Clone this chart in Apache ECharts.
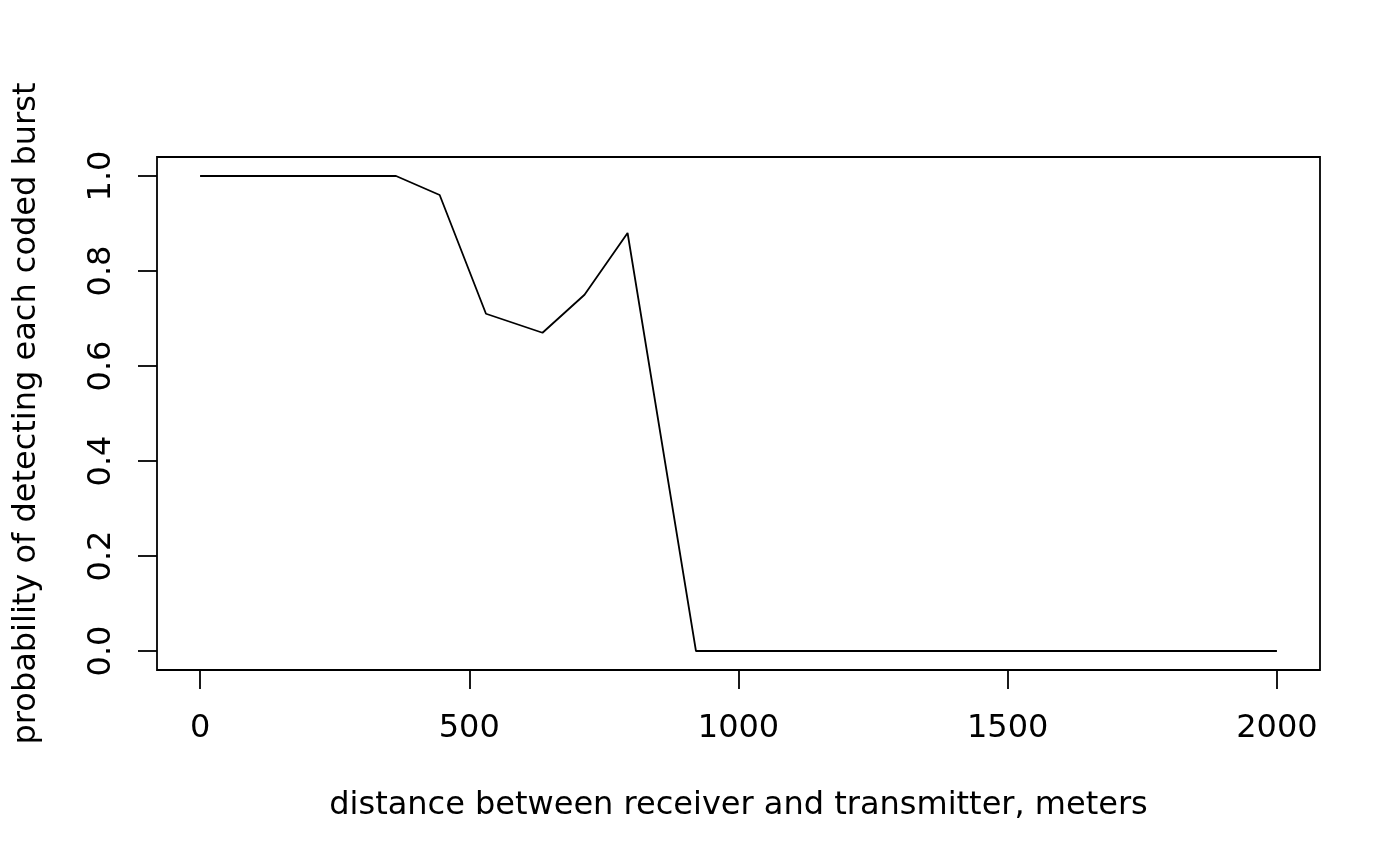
<!DOCTYPE html>
<html>
<head>
<meta charset="utf-8">
<script src="https://cdn.jsdelivr.net/npm/echarts@6/dist/echarts.min.js"></script>
<style>
  html, body { margin: 0; padding: 0; background: #fff; }
  #chart { width: 1400px; height: 866px; }
</style>
</head>
<body>
<div id="chart"></div>
<script>
  // detection range curve
  const distances = [0, 364, 445, 531, 636, 714, 794, 921, 2000];
  const probabilities = [1.0, 1.0, 0.96, 0.71, 0.67, 0.75, 0.88, 0.0, 0.0];
  const xTicks = [0, 500, 1000, 1500, 2000];
  const yTicks = [0, 0.2, 0.4, 0.6, 0.8, 1.0];

  const font = "'DejaVu Sans', sans-serif";
  const chart = echarts.init(document.getElementById("chart"), null, { renderer: "canvas" });

  chart.setOption({
    animation: false,
    grid: {
      left: 157, right: 80, top: 157, bottom: 196,
      show: true, borderColor: "#000", borderWidth: 1.8, backgroundColor: "transparent"
    },
    xAxis: {
      type: "value", min: -80, max: 2080,
      name: "distance between receiver and transmitter, meters",
      nameLocation: "middle", nameGap: 120,
      nameTextStyle: { color: "#000", fontFamily: font, fontSize: 32 },
      axisLine: { show: false, onZero: false },
      splitLine: { show: false },
      axisTick: { show: true, inside: false, length: 19, customValues: xTicks, lineStyle: { color: "#000", width: 1.8 } },
      axisLabel: {
        color: "#000", fontFamily: font, fontSize: 32, margin: 43, customValues: xTicks,
        formatter: function (v) { return String(v); }
      }
    },
    yAxis: {
      type: "value", min: -0.04, max: 1.04,
      name: "probability of detecting each coded burst",
      nameLocation: "middle", nameGap: 114, nameRotate: 90,
      nameTextStyle: { color: "#000", fontFamily: font, fontSize: 32 },
      axisLine: { show: false, onZero: false },
      splitLine: { show: false },
      axisTick: { show: true, inside: false, length: 19, customValues: yTicks, lineStyle: { color: "#000", width: 1.8 } },
      axisLabel: {
        color: "#000", fontFamily: font, fontSize: 32, margin: 39, rotate: 90,
        customValues: yTicks,
        formatter: function (v) { return v.toFixed(1); }
      }
    },
    series: [{
      type: "line",
      data: distances.map(function (d, i) { return [d, probabilities[i]]; }),
      symbol: "none",
      lineStyle: { color: "#000", width: 1.8 }
    }]
  });
</script>
</body>
</html>
